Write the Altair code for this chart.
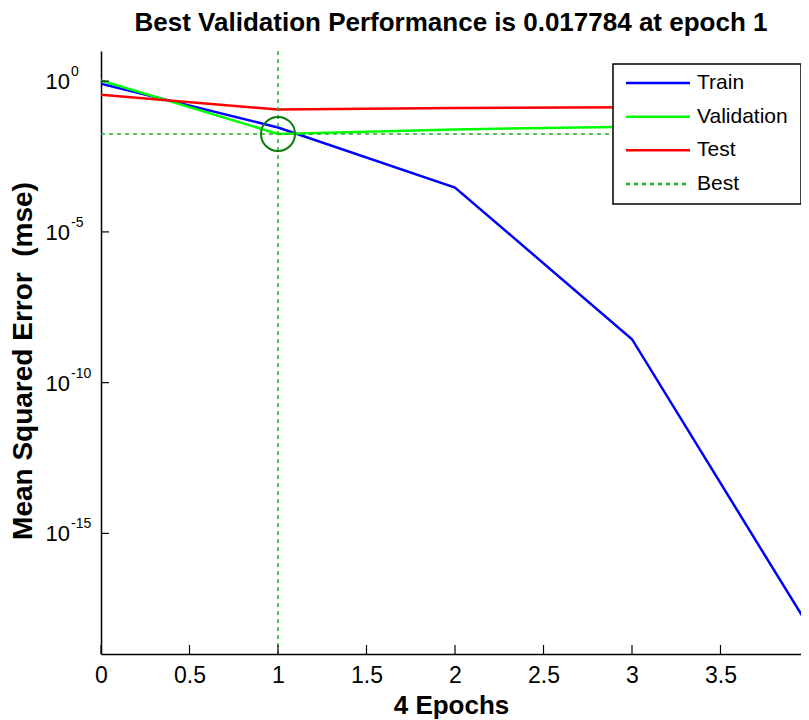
import altair as alt
import pandas as pd

# ---- data ----
epochs = [0, 1, 2, 3, 4]
train_mse = [0.83, 0.029, 2.97e-4, 2.76e-9, 7.9e-19]
val_mse = [1.06, 0.017784, 0.025, 0.031, 0.036]
test_mse = [0.357, 0.114, 0.128, 0.136, 0.143]

series_names = ["Train", "Validation", "Test", "Best"]
series_colors = ["#0000FF", "#00FF00", "#FF0000", "#1DB31D"]
series_dash = [[1, 0], [1, 0], [1, 0], [4, 4]]

best_epoch = [1]
best_perf = [0.017784]

x_ticks = [0, 0.5, 1, 1.5, 2, 2.5, 3, 3.5, 4]
y_tick_exps = [0, -5, -10, -15]

FONT = "Liberation Sans"
W, H = 700, 603
X_MAX = 4 * 700 / 708  # the reference crops the axes just before epoch 4

lines_df = pd.DataFrame({
    "epoch": epochs * 3,
    "mse": train_mse + val_mse + test_mse,
    "series": ["Train"] * 5 + ["Validation"] * 5 + ["Test"] * 5,
})
best_df = pd.DataFrame({"epoch": best_epoch, "mse": best_perf})
xt_df = pd.DataFrame({"epoch": x_ticks[:-1]})
yt_df = pd.DataFrame({"exp": y_tick_exps, "mse": [10.0 ** e for e in y_tick_exps],
                      "base": ["10"] * len(y_tick_exps),
                      "sup": [str(e) for e in y_tick_exps]})
leg_df = pd.DataFrame({"series": series_names, "idx": list(range(len(series_names)))})

xs = alt.Scale(domain=[0, X_MAX], nice=False)
ylog = alt.Scale(type="log", domain=[1e-19, 10], nice=False)
cscale = alt.Scale(domain=series_names, range=series_colors)
leg_y = alt.Scale(domain=[0, 3], range=[32, 133])

x_axis = alt.Axis(values=x_ticks, format="~g", ticks=False, grid=False,
                  labelPadding=10, labelFontSize=23, labelFont=FONT, labelColor="black",
                  labelFlush=False, labelOverlap=False,
                  domainColor="black", domainWidth=1.5,
                  title="4 Epochs", titleFont=FONT, titleFontSize=26, titleFontWeight="bold",
                  titleColor="black", titleY=59, titleBaseline="alphabetic")
y_axis = alt.Axis(labels=False, ticks=False, grid=False,
                  domainColor="black", domainWidth=1.5,
                  title="Mean Squared Error \u00a0(mse)", titleFont=FONT, titleFontSize=28,
                  titleFontWeight="bold", titleColor="black",
                  titleAngle=-90, titleX=-78, titleY=H / 2 + 8,
                  titleAlign="center", titleBaseline="middle")

lines = alt.Chart(lines_df).mark_line(strokeWidth=2.5, clip=True).encode(
    x=alt.X("epoch:Q", scale=xs, axis=x_axis),
    y=alt.Y("mse:Q", scale=ylog, axis=y_axis),
    color=alt.Color("series:N", scale=cscale, legend=None),
    order=alt.Order("epoch:Q"),
)

best_v = alt.Chart(best_df).mark_rule(strokeDash=[4, 4], strokeWidth=1.5, color=series_colors[3]).encode(
    x=alt.X("epoch:Q", scale=xs),
)
best_h = alt.Chart(best_df).mark_rule(strokeDash=[4, 4], strokeWidth=1.5, color=series_colors[3]).encode(
    y=alt.Y("mse:Q", scale=ylog, axis=None),
)
circle = alt.Chart(best_df).mark_point(shape="circle", size=1156, filled=False,
                                       stroke="#0A7D0A", strokeWidth=2, opacity=1).encode(
    x=alt.X("epoch:Q", scale=xs),
    y=alt.Y("mse:Q", scale=ylog, axis=None),
)

x_tickmarks = alt.Chart(xt_df).mark_rule(color="black", strokeWidth=1.2).encode(
    x=alt.X("epoch:Q", scale=xs),
    y=alt.value(H),
    y2=alt.value(H - 9),
)
y_tickmarks = alt.Chart(yt_df).mark_rule(color="black", strokeWidth=1.2).encode(
    y=alt.Y("mse:Q", scale=ylog, axis=None),
    x=alt.value(0),
    x2=alt.value(8),
)
y_base = alt.Chart(yt_df).mark_text(align="right", baseline="middle", font=FONT,
                                     fontSize=22, color="black", dx=-31, dy=1).encode(
    y=alt.Y("mse:Q", scale=ylog, axis=None),
    x=alt.value(0),
    text="base:N",
)
y_sup = alt.Chart(yt_df).mark_text(align="left", baseline="middle", font=FONT,
                                    fontSize=14, color="black", dx=-30, dy=-9).encode(
    y=alt.Y("mse:Q", scale=ylog, axis=None),
    x=alt.value(0),
    text="sup:N",
)

leg_box = alt.Chart(leg_df.head(1)).mark_rect(fill="white", stroke="black", strokeWidth=1.5).encode(
    x=alt.value(512), x2=alt.value(700), y=alt.value(13), y2=alt.value(153),
)
leg_lines = alt.Chart(leg_df).mark_rule(strokeWidth=2.5).encode(
    x=alt.value(525), x2=alt.value(589),
    y=alt.Y("idx:Q", scale=leg_y, axis=None),
    color=alt.Color("series:N", scale=cscale, legend=None),
    strokeDash=alt.StrokeDash("series:N", scale=alt.Scale(domain=series_names, range=series_dash), legend=None),
)
leg_text = alt.Chart(leg_df).mark_text(align="left", baseline="middle", font=FONT,
                                        fontSize=21, color="black").encode(
    x=alt.value(596),
    y=alt.Y("idx:Q", scale=leg_y, axis=None),
    text="series:N",
)

chart = alt.layer(
    lines, best_v, best_h, circle, x_tickmarks, y_tickmarks,
    leg_box, leg_lines, leg_text, y_base, y_sup,
).resolve_scale(y="independent").properties(
    width=W, height=H,
    title=alt.Title("Best Validation Performance is 0.017784 at epoch 1",
                    font=FONT, fontSize=26, fontWeight="bold", color="black",
                    anchor="middle", baseline="alphabetic", offset=19, dy=26),
    autosize=alt.AutoSizeParams(type="none"),
    padding={"left": 93, "top": 43, "right": 0, "bottom": 66},
    background="white",
).configure_view(strokeWidth=0)

chart.save("out.html", embed_options={"renderer": "svg", "actions": False})
